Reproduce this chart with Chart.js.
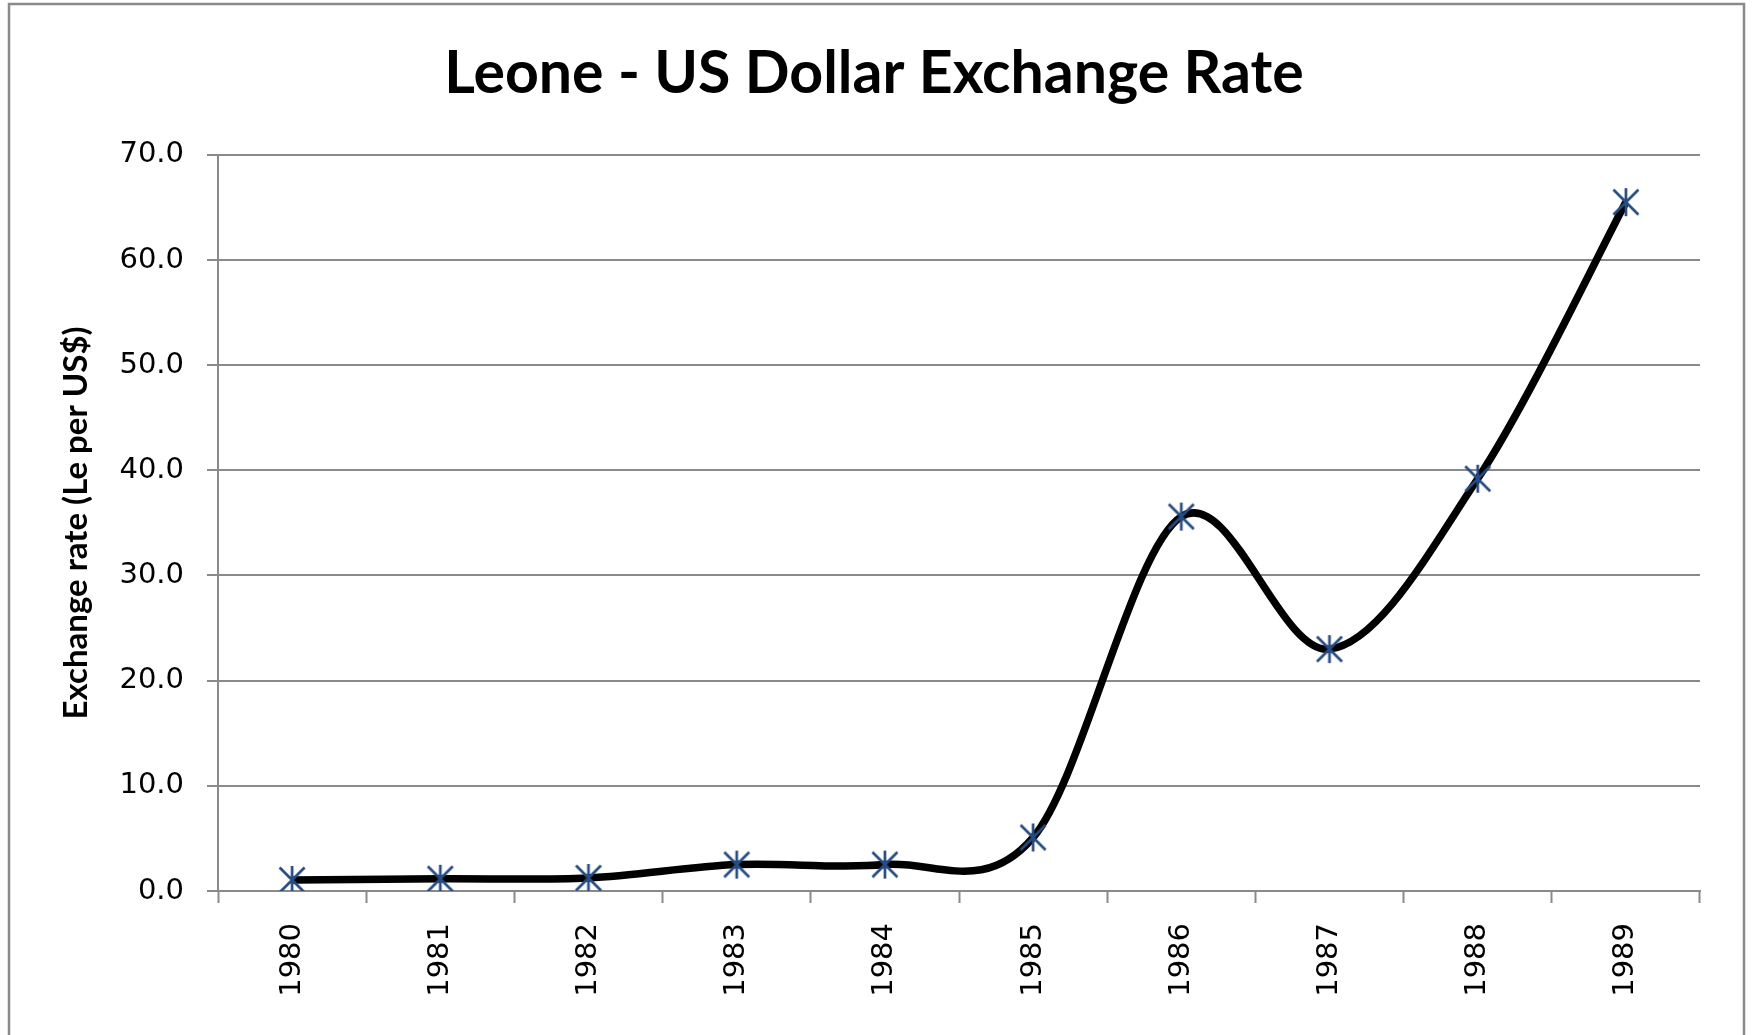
<!DOCTYPE html>
<html>
<head>
<meta charset="utf-8">
<script src="https://cdn.jsdelivr.net/npm/chart.js@4.4.1/dist/chart.umd.min.js"></script>
<style>
  html, body { margin: 0; padding: 0; background: #ffffff; }
  #wrap { position: relative; width: 1752px; height: 1035px; }
  canvas { display: block; }
</style>
</head>
<body>
<div id="wrap"><canvas id="c" width="1752" height="1035"></canvas></div>
<script>
const categories = ['1980', '1981', '1982', '1983', '1984', '1985', '1986', '1987', '1988', '1989'];
const exchangeRate = [1.05, 1.16, 1.24, 2.51, 2.51, 5.09, 35.6, 23.0, 39.2, 65.5];
const yTicks = [0, 10, 20, 30, 40, 50, 60, 70];
const chartTitle = 'Leone - US Dollar Exchange Rate';
const yAxisTitle = 'Exchange rate (Le per US$)';

// asterisk-style marker (X plus vertical bar)
function makeMarker() {
  const s = 32;
  const cv = document.createElement('canvas');
  cv.width = s; cv.height = s;
  const g = cv.getContext('2d');
  g.strokeStyle = '#264c82';
  g.lineWidth = 2.7;
  const c = s / 2, r = 12.5;
  g.beginPath();
  g.moveTo(c - r, c - r); g.lineTo(c + r, c + r);
  g.moveTo(c + r, c - r); g.lineTo(c - r, c + r);
  g.moveTo(c, c - r - 1.5); g.lineTo(c, c + r + 1.5);
  g.stroke();
  return cv;
}
const marker = makeMarker();

const borderPlugin = {
  id: 'outerBorder',
  beforeDraw(chart) {
    const ctx = chart.ctx;
    ctx.save();
    ctx.fillStyle = '#ffffff';
    ctx.fillRect(0, 0, chart.width, chart.height);
    ctx.strokeStyle = '#8a8a8a';
    ctx.lineWidth = 2.5;
    ctx.strokeRect(9, 4, 1735, 1060);
    ctx.restore();
  }
};

// Spreadsheet-style smoothing: uniform Catmull-Rom control points from the library's own point positions
const smoothPlugin = {
  id: 'uniformSmooth',
  beforeDatasetDraw(chart, args) {
    const meta = args.meta;
    const line = meta.dataset;
    if (!line) return;
    line.updateControlPoints(chart.chartArea, 'x');
    const pts = meta.data;
    const n = pts.length;
    for (let i = 0; i < n; i++) {
      const p = pts[i];
      const prev = pts[Math.max(0, i - 1)];
      const next = pts[Math.min(n - 1, i + 1)];
      const dx = (next.x - prev.x) / 6;
      const dy = (next.y - prev.y) / 6;
      p.cp1x = p.x - dx; p.cp1y = p.y - dy;
      p.cp2x = p.x + dx; p.cp2y = p.y + dy;
    }
  }
};

const gridColor = '#8a8a8a';

new Chart(document.getElementById('c'), {
  type: 'line',
  data: {
    labels: categories,
    datasets: [{
      data: exchangeRate,
      borderColor: '#000000',
      borderWidth: 7.5,
      tension: 0.4,
      capBezierPoints: false,
      fill: false,
      pointStyle: marker,
      pointRadius: 14,
      pointHoverRadius: 14
    }]
  },
  options: {
    responsive: false,
    animation: false,
    events: [],
    layout: { padding: { left: 48, right: 52, top: 0, bottom: 0 } },
    plugins: {
      legend: { display: false },
      tooltip: { enabled: false },
      title: {
        display: true,
        text: chartTitle,
        color: '#000000',
        font: { family: 'Lato, "Open Sans", sans-serif', size: 59, weight: 'bold', lineHeight: 1.2 },
        padding: { top: 39, bottom: 45 }
      }
    },
    scales: {
      x: {
        type: 'category',
        offset: true,
        grid: {
          offset: true,
          display: true,
          drawOnChartArea: false,
          drawTicks: true,
          tickLength: 12,
          tickWidth: 2,
          tickColor: gridColor,
          color: gridColor
        },
        border: { display: true, color: gridColor, width: 2 },
        ticks: {
          color: '#000000',
          font: { family: '"DejaVu Sans", sans-serif', size: 29 },
          minRotation: 90,
          maxRotation: 90,
          padding: 20,
          autoSkip: false
        },
        afterFit(scale) { scale.height = 144; }
      },
      y: {
        min: 0,
        max: 70,
        afterBuildTicks(scale) { scale.ticks = yTicks.map(v => ({ value: v })); },
        grid: {
          display: true,
          drawOnChartArea: true,
          drawTicks: true,
          tickLength: 11,
          lineWidth: 2,
          tickWidth: 2,
          color: gridColor,
          tickColor: gridColor
        },
        border: { display: true, color: gridColor, width: 2 },
        ticks: {
          color: '#000000',
          font: { family: '"DejaVu Sans", sans-serif', size: 29 },
          padding: 23,
          callback: (v) => Number(v).toFixed(1)
        },
        title: {
          display: true,
          text: yAxisTitle,
          color: '#000000',
          font: { family: 'Lato, "Open Sans", sans-serif', size: 33, weight: 'bold', lineHeight: 1.2 },
          padding: { top: 9, bottom: 0 }
        },
        afterFit(scale) { scale.width = 170; }
      }
    }
  },
  plugins: [borderPlugin, smoothPlugin]
});
</script>
</body>
</html>
